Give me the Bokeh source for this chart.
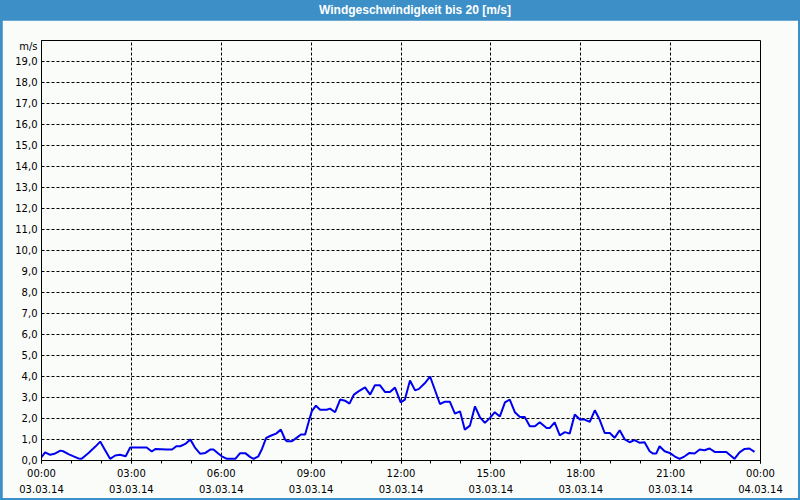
from bokeh.plotting import figure
from bokeh.models import FixedTicker, Div, Range1d
from bokeh.layouts import column
from bokeh.embed import file_html
from bokeh.resources import INLINE

# time of day in hours (03.03.14) and wind speed in m/s
hours = [0.00, 0.12, 0.29, 0.43, 0.63, 0.73, 0.90, 1.07, 1.23, 1.34, 1.57, 1.79, 1.96, 2.10, 2.29,
         2.46, 2.62, 2.81, 2.96, 3.51, 3.68, 3.81, 4.18,
         4.36, 4.50, 4.63, 4.80, 4.97, 5.13, 5.30, 5.47, 5.63, 5.74, 5.91, 6.02, 6.19, 6.47, 6.63,
         6.80, 6.97, 7.08, 7.24, 7.36, 7.50, 7.67, 7.83, 7.99, 8.13, 8.19, 8.36, 8.47, 8.66, 8.80,
         8.94, 9.02, 9.16, 9.30, 9.52, 9.63, 9.80, 9.97, 10.13, 10.28, 10.43, 10.58, 10.80, 10.97,
         11.13, 11.30, 11.47, 11.63, 11.80, 11.99, 12.13, 12.30,
         12.47, 12.60, 12.80, 12.97, 13.13, 13.30, 13.47, 13.63, 13.80, 13.97, 14.13, 14.30, 14.47,
         14.63, 14.80, 14.97, 15.13, 15.30, 15.47, 15.63, 15.80, 15.97, 16.13, 16.30,
         16.47, 16.63, 16.86, 16.97, 17.13, 17.30, 17.47, 17.63, 17.80, 17.97, 18.13, 18.30, 18.47,
         18.63, 18.80, 18.97, 19.13, 19.30, 19.47, 19.63, 19.80, 19.97, 20.13, 20.30,
         20.41, 20.52, 20.63, 20.80, 20.97, 21.13, 21.30, 21.47, 21.63, 21.80, 21.97, 22.13, 22.30,
         22.47, 22.86, 23.13, 23.30, 23.47, 23.63, 23.80]
speed = [0.16, 0.39, 0.27, 0.32, 0.47, 0.44, 0.30, 0.20, 0.10, 0.08, 0.36, 0.65, 0.90, 0.55, 0.08,
         0.24, 0.27, 0.20, 0.62, 0.62, 0.43, 0.55, 0.52,
         0.52, 0.68, 0.68, 0.79, 1.00, 0.60, 0.32, 0.36, 0.52, 0.52, 0.32, 0.20, 0.08, 0.08, 0.35,
         0.35, 0.16, 0.08, 0.20, 0.55, 1.08, 1.19, 1.28, 1.47, 1.00, 0.92, 0.92, 1.03, 1.24, 1.24,
         1.95, 2.34, 2.61, 2.42, 2.42, 2.47, 2.30, 2.90, 2.85, 2.71, 3.14, 3.29, 3.48, 3.14,
         3.58, 3.58, 3.26, 3.26, 3.47, 2.77, 2.90, 3.81,
         3.34, 3.41, 3.69, 4.00, 3.37, 2.69, 2.80, 2.80, 2.23, 2.34, 1.47, 1.66, 2.58,
         2.07, 1.79, 2.03, 2.30, 2.10, 2.77, 2.90, 2.30, 2.07, 2.07, 1.63,
         1.63, 1.82, 1.55, 1.55, 1.82, 1.20, 1.35, 1.28, 2.19, 1.95, 1.95, 1.84, 2.39,
         1.95, 1.31, 1.31, 1.08, 1.44, 1.00, 0.87, 0.97, 0.84, 0.87, 0.44,
         0.33, 0.33, 0.68, 0.44, 0.36, 0.20, 0.08, 0.20, 0.36, 0.33, 0.52, 0.49, 0.57,
         0.41, 0.41, 0.08, 0.39, 0.55, 0.57, 0.41]

x_ticks = [0, 3, 6, 9, 12, 15, 18, 21, 24]
x_tick_labels = ["00:00\n03.03.14", "03:00\n03.03.14", "06:00\n03.03.14", "09:00\n03.03.14",
                 "12:00\n03.03.14", "15:00\n03.03.14", "18:00\n03.03.14", "21:00\n03.03.14",
                 "00:00\n04.03.14"]
x_minor = list(range(0, 25))
y_ticks = list(range(0, 20))
y_tick_labels = [f"{v},0" for v in y_ticks]

title_text = "Windgeschwindigkeit bis 20 [m/s]"
unit_text = "m/s"
unit_pos = 19.72

BLUE = "#3c8fc7"
BG = "#fafcfa"
FONT = "DejaVu Sans"

title = Div(
    text=(f'<div style="width:800px;height:20px;background:{BLUE};color:#ffffff;'
          f'font-family:\'Liberation Sans\';font-weight:bold;font-size:12px;'
          f'line-height:20px;text-align:center;padding-left:30px;box-sizing:border-box;">'
          f'{title_text}</div>'),
    width=800, height=20, margin=(0, 0, 0, 0))

p = figure(width=796, height=478, x_range=Range1d(0, 24), y_range=Range1d(0, 20),
           output_backend="svg", toolbar_location=None,
           min_border_left=39, min_border_right=38, min_border_top=20, min_border_bottom=37,
           background_fill_color=BG, border_fill_color=BG, margin=(0, 2, 2, 2))

p.line(hours, speed, line_color="#0000f0", line_width=2)

p.xaxis.ticker = FixedTicker(ticks=x_ticks, minor_ticks=x_minor)
p.xaxis.major_label_overrides = dict(zip(x_ticks, x_tick_labels))
p.xaxis.major_tick_in = 0
p.xaxis.major_tick_out = 3
p.xaxis.minor_tick_in = 0
p.xaxis.minor_tick_out = 3
p.xaxis.major_label_standoff = 4
p.xaxis.major_label_text_line_height = 1.5

y_overrides = dict(zip(y_ticks, y_tick_labels))
y_overrides[unit_pos] = unit_text
p.yaxis.ticker = FixedTicker(ticks=y_ticks + [unit_pos], minor_ticks=[])
p.yaxis.major_label_overrides = y_overrides
p.yaxis.major_tick_in = 0
p.yaxis.major_tick_out = 0
p.yaxis.minor_tick_out = 0
p.yaxis.major_label_standoff = 4
p.ygrid.ticker = FixedTicker(ticks=y_ticks, minor_ticks=[])
p.xgrid.ticker = FixedTicker(ticks=x_ticks, minor_ticks=[])

for ax in (p.xaxis, p.yaxis):
    ax.axis_line_color = "black"
    ax.major_tick_line_color = "black"
    ax.minor_tick_line_color = "black"
    ax.major_label_text_font = FONT
    ax.major_label_text_font_size = "10px"
    ax.major_label_text_color = "black"

p.grid.grid_line_color = "black"
p.grid.grid_line_dash = "3 2"
p.grid.grid_line_width = 1
p.outline_line_color = "black"
p.outline_line_alpha = 1

layout = column(title, p, spacing=0, background=BLUE)

open("out.html", "w").write(file_html(layout, INLINE))
